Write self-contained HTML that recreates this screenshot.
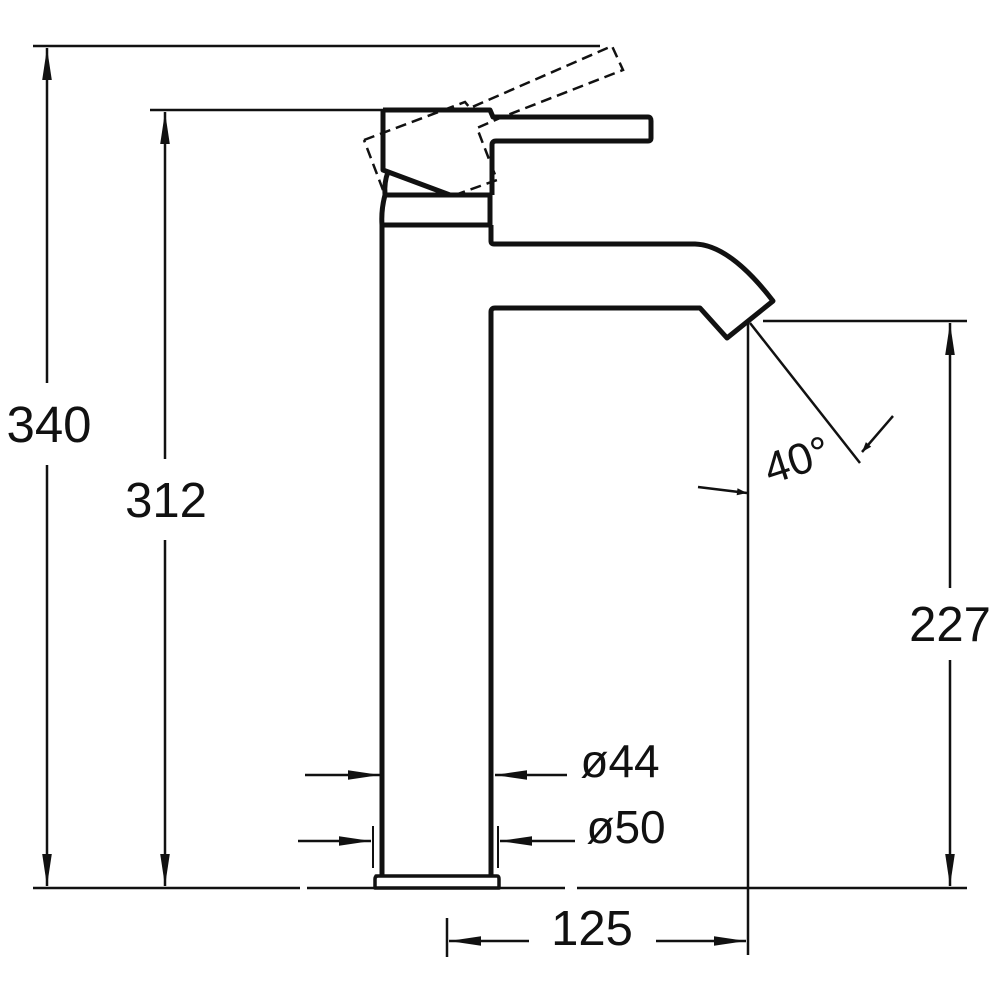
<!DOCTYPE html>
<html><head><meta charset="utf-8"><style>
html,body{margin:0;padding:0;background:#fff;}
svg{display:block;}
text{font-family:"Liberation Sans",sans-serif;fill:#111;}
</style></head><body>
<svg width="1000" height="1000" viewBox="0 0 1000 1000" xmlns="http://www.w3.org/2000/svg">
<defs>
<marker id="a" viewBox="0 0 10 10" refX="10" refY="5" markerWidth="12" markerHeight="10" markerUnits="userSpaceOnUse" orient="auto-start-reverse">
<path d="M0,1.5 L10,5 L0,8.5 z" fill="#111"/></marker>
<marker id="b" viewBox="0 0 10 10" refX="10" refY="5" markerWidth="32" markerHeight="12" markerUnits="userSpaceOnUse" orient="auto-start-reverse" preserveAspectRatio="none">
<path d="M0,1 L10,5 L0,9 z" fill="#111"/></marker>
</defs>
<g stroke="#111" fill="none">
<line x1="33" y1="888" x2="300" y2="888" stroke-width="2.5"/>
<line x1="307" y1="888" x2="565" y2="888" stroke-width="2.5"/>
<line x1="577" y1="888" x2="967" y2="888" stroke-width="2.5"/>
<line x1="33" y1="46" x2="600" y2="46" stroke-width="2.5"/>
<line x1="150" y1="110" x2="383" y2="110" stroke-width="2.5"/>
<line x1="763" y1="321" x2="967" y2="321" stroke-width="2.5"/>
<line x1="47" y1="48" x2="47" y2="383" stroke-width="2.5" marker-start="url(#b)"/>
<line x1="47" y1="465" x2="47" y2="886" stroke-width="2.5" marker-end="url(#b)"/>
<line x1="165" y1="112" x2="165" y2="459" stroke-width="2.5" marker-start="url(#b)"/>
<line x1="165" y1="540" x2="165" y2="886" stroke-width="2.5" marker-end="url(#b)"/>
<line x1="950" y1="323" x2="950" y2="588" stroke-width="2.5" marker-start="url(#b)"/>
<line x1="950" y1="660" x2="950" y2="886" stroke-width="2.5" marker-end="url(#b)"/>
<line x1="748" y1="321" x2="748" y2="955" stroke-width="2.5"/>
<line x1="447" y1="918" x2="447" y2="957" stroke-width="2.5"/>
<line x1="529" y1="941" x2="449" y2="941" stroke-width="2.5" marker-end="url(#b)"/>
<line x1="656" y1="941" x2="746" y2="941" stroke-width="2.5" marker-end="url(#b)"/>
<line x1="305" y1="775" x2="380" y2="775" stroke-width="2.5" marker-end="url(#b)"/>
<line x1="567" y1="775" x2="495" y2="775" stroke-width="2.5" marker-end="url(#b)"/>
<line x1="373" y1="826" x2="373" y2="868" stroke-width="2"/>
<line x1="498" y1="826" x2="498" y2="868" stroke-width="2"/>
<line x1="298" y1="841" x2="371" y2="841" stroke-width="2.5" marker-end="url(#b)"/>
<line x1="575" y1="841" x2="500" y2="841" stroke-width="2.5" marker-end="url(#b)"/>
<line x1="750" y1="323" x2="860" y2="463" stroke-width="2.5"/>
<line x1="893" y1="416" x2="862" y2="452" stroke-width="2.5" marker-end="url(#a)"/>
<line x1="698" y1="487" x2="747" y2="493" stroke-width="2.5" marker-end="url(#a)"/>
<path d="M364,140 L465,102 L470,108 L612,46 L623,70 L500,118 L477,128 L497,180 L455,195 M383,190 L364,140" stroke-width="2.5" stroke-dasharray="11,6"/>
<g stroke-width="5" stroke-linejoin="round">
<path d="M383,110 L490,110 L493,117 L648,117 Q651,117 651,121 L651,138 Q651,141 648,141 L496,141 Q492,141 492,145 L492,195"/>
<path d="M383,110 L383,170 L450,195 L492,195"/>
<path d="M388,172 Q384,182 385,195 L490,195 L490,225 L383,225"/>
<path d="M385,195 Q381,210 382,225"/>
<path d="M382,225 L382,876 M491,225 L491,241 Q491,244 494,244 L695,244 Q730,245 773,301 L727,338 L700,308 L495,308 Q491,308 491,312 L491,876"/>
<path d="M376,876 L497,876 Q499,876 499,879 L499,888 L375,888 L375,879 Q375,876 378,876 Z" stroke-width="3.5"/>
</g>
</g>
<text x="49" y="442" font-size="51" text-anchor="middle">340</text>
<text x="166" y="517" font-size="49" text-anchor="middle">312</text>
<text x="950" y="641" font-size="49" text-anchor="middle">227</text>
<text x="592" y="945" font-size="49" text-anchor="middle">125</text>
<text x="620" y="777" font-size="46" text-anchor="middle">ø44</text>
<text x="626" y="843" font-size="46" text-anchor="middle">ø50</text>
<text x="797" y="475" font-size="44" text-anchor="middle" transform="rotate(-18 797 460)">40°</text>
</svg>
</body></html>
